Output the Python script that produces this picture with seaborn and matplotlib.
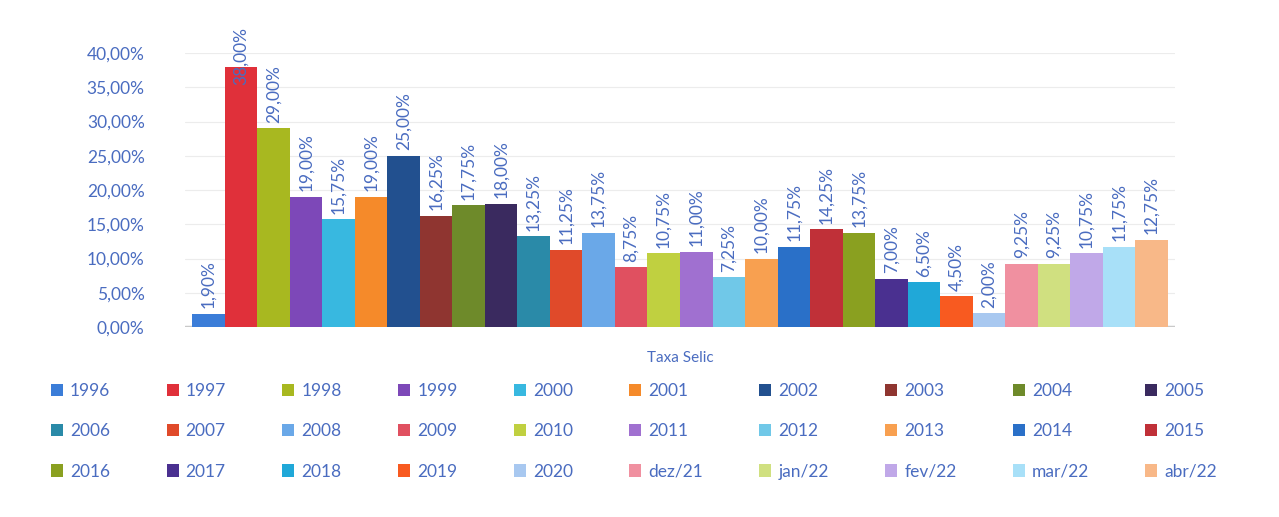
import matplotlib
matplotlib.use("Agg")
import matplotlib.pyplot as plt
import seaborn as sns
import pandas as pd
from matplotlib.ticker import FuncFormatter

anos = ["1996", "1997", "1998", "1999", "2000", "2001", "2002", "2003", "2004", "2005",
        "2006", "2007", "2008", "2009", "2010", "2011", "2012", "2013", "2014", "2015",
        "2016", "2017", "2018", "2019", "2020", "dez/21", "jan/22", "fev/22", "mar/22", "abr/22"]
taxas = [1.90, 38.00, 29.00, 19.00, 15.75, 19.00, 25.00, 16.25, 17.75, 18.00,
         13.25, 11.25, 13.75, 8.75, 10.75, 11.00, 7.25, 10.00, 11.75, 14.25,
         13.75, 7.00, 6.50, 4.50, 2.00, 9.25, 9.25, 10.75, 11.75, 12.75]
cores = ["#3b7dd8", "#e0303a", "#a8b820", "#7d48b8", "#38b8e0", "#f58a2a", "#22508f", "#8f3530", "#6e8a2a", "#3a2a5f",
         "#2a8aa8", "#e04a2a", "#6aa8e8", "#e05060", "#c0d040", "#a070d0", "#70c8e8", "#f8a050", "#2a70c8", "#c03038",
         "#8aa020", "#4a3090", "#20a8d8", "#f85a20", "#a8c8f0", "#f090a0", "#d0e080", "#c0a8e8", "#a8e0f8", "#f8b888"]
categoria = "Taxa Selic"

df = pd.DataFrame({"cat": [categoria] * len(anos), "ano": anos, "taxa": taxas})

sns.set_theme(style="white")
plt.rcParams["font.family"] = ["Lato", "DejaVu Sans"]
txt = "#4a6cc0"

fig = plt.figure(figsize=(12.79, 5.17), dpi=100)
ax = fig.add_axes([185 / 1279, 190 / 517, 990 / 1279, 274 / 517])

sns.barplot(data=df, x="cat", y="taxa", hue="ano", hue_order=anos,
            palette=cores, width=0.985, dodge=True, ax=ax, legend=True,
            saturation=1, edgecolor="none", linewidth=0)

ax.set_ylim(0, 40)
ax.set_xlim(-0.5, 0.5)
ax.set_yticks(range(0, 41, 5))
ax.yaxis.set_major_formatter(FuncFormatter(lambda v, p: f"{v:.2f}%".replace(".", ",")))
ax.grid(axis="y", color="#ececec", linewidth=0.8)
ax.set_axisbelow(True)
for s in ax.spines.values():
    s.set_visible(False)
ax.axhline(0, color="#c8c8c8", linewidth=2.5, zorder=0)
ax.tick_params(axis="y", colors=txt, labelsize=12.5, length=0, pad=29)
ax.tick_params(axis="x", colors=txt, labelsize=11, length=0, pad=17)
ax.set_xlabel("")
ax.set_ylabel("")

for i, cont in enumerate(ax.containers):
    pad = -13 if taxas[i] > 35 else 4
    ax.bar_label(cont, labels=[f"{taxas[i]:.2f}%".replace(".", ",")], rotation=90,
                 padding=pad, color=txt, fontsize=12.5, clip_on=False)

handles, labels = ax.get_legend_handles_labels()
ax.get_legend().remove()
order = [r * 10 + c for c in range(10) for r in range(3)]
top = 1 - 376 / 517
fig.legend([handles[k] for k in order], [labels[k] for k in order],
           loc="upper left", bbox_to_anchor=(44 / 1279, 0.01, 1180 / 1279, top - 0.01),
           mode="expand", ncol=10, frameon=False, fontsize=12.5,
           handlelength=0.7, handleheight=0.7, handletextpad=0.4,
           labelspacing=1.4, labelcolor=txt, borderaxespad=0)

fig.savefig("out.png", dpi=100, facecolor="white")
